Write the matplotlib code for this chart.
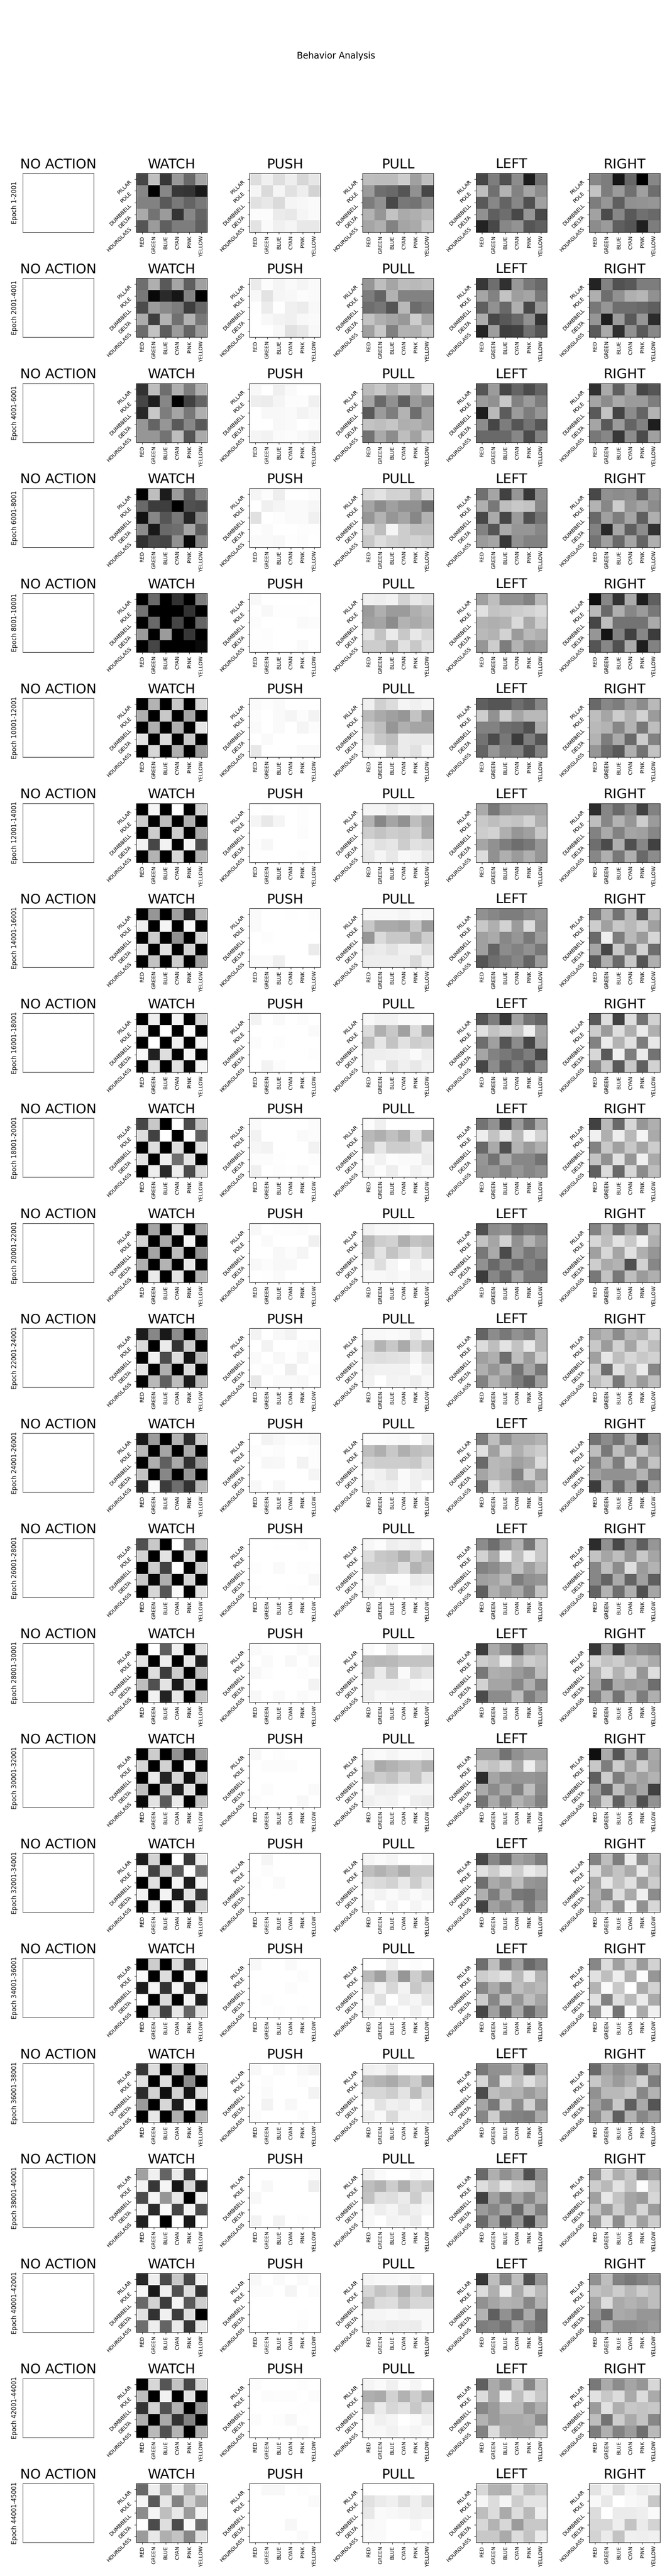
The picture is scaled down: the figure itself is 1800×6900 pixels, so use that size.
import matplotlib
matplotlib.use("Agg")
import matplotlib.pyplot as plt
import numpy as np

COLORS = ["RED", "GREEN", "BLUE", "CYAN", "PINK", "YELLOW"]
SHAPES = ["PILLAR", "POLE", "DUMBBELL", "DELTA", "HOURGLASS"]
ACTIONS = ["NO ACTION", "WATCH", "PUSH", "PULL", "LEFT", "RIGHT"]
EPOCHS = ["1-2001", "2001-4001", "4001-6001", "6001-8001", "8001-10001", "10001-12001",
          "12001-14001", "14001-16001", "16001-18001", "18001-20001", "20001-22001",
          "22001-24001", "24001-26001", "26001-28001", "28001-30001", "30001-32001",
          "32001-34001", "34001-36001", "36001-38001", "38001-40001", "40001-42001",
          "42001-44001", "44001-45001"]

# Grey level of each cell (0 black .. 255 white), one 5x6 grid per epoch.
NO_ACTION = [[255] * 6] * 5

WATCH = [
 [[70,192,55,152,105,165],[135,0,135,55,52,25],[130,130,90,122,100,120],[170,115,155,52,135,100],[85,155,95,125,125,95]],
 [[110,175,90,165,95,160],[120,8,42,22,130,0],[75,155,138,125,62,102],[172,62,178,112,178,120],[108,195,92,155,100,155]],
 [[50,190,110,175,125,175],[70,30,135,0,65,100],[40,200,125,165,120,175],[150,100,150,90,135,90],[150,150,115,190,85,170]],
 [[0,190,28,155,85,135],[105,60,62,0,80,75],[18,135,85,120,38,135],[140,25,105,110,165,95],[48,75,68,145,10,135]],
 [[0,105,0,50,0,125],[115,0,0,0,50,0],[0,105,0,70,0,100],[155,0,155,0,55,0],[0,70,0,0,0,10]],
 [[0,180,0,200,0,215],[175,0,200,0,165,0],[0,175,0,175,0,230],[228,0,218,0,200,0],[0,215,0,175,0,155]],
 [[0,245,0,255,0,210],[205,0,190,0,175,0],[0,205,0,205,0,170],[242,70,242,0,242,75],[0,180,0,215,0,180]],
 [[0,150,0,160,35,185],[238,0,245,0,248,0],[0,205,0,145,0,215],[230,0,225,0,210,0],[0,195,0,205,0,160]],
 [[0,238,0,245,0,215],[238,0,255,0,250,0],[0,255,0,240,0,245],[248,32,222,0,245,0],[0,225,0,228,8,245]],
 [[70,200,0,255,75,195],[222,65,255,0,252,95],[0,222,0,222,0,225],[228,0,238,110,228,0],[0,238,40,238,75,218]],
 [[0,165,0,222,0,170],[212,0,170,0,245,0],[0,165,0,190,0,150],[175,0,180,0,230,0],[0,235,0,228,0,180]],
 [[28,135,25,140,0,155],[218,0,235,50,205,0],[0,240,75,222,20,185],[228,0,175,0,218,0],[0,185,95,190,28,185]],
 [[25,155,0,180,45,205],[185,0,165,0,170,0],[0,175,95,170,50,155],[195,0,135,0,150,0],[38,250,60,110,50,185]],
 [[80,200,0,255,100,195],[210,0,228,0,215,0],[0,205,65,255,0,205],[200,8,175,0,212,0],[0,215,85,250,0,228]],
 [[0,255,95,240,0,225],[225,0,240,0,230,30],[0,222,60,205,0,190],[190,80,228,25,212,0],[0,242,35,232,0,195]],
 [[0,205,0,145,15,160],[215,0,210,0,243,0],[0,235,35,215,15,200],[190,0,205,28,225,0],[8,228,90,235,0,195]],
 [[28,212,0,255,55,238],[245,65,210,90,252,110],[0,225,0,243,28,245],[243,0,243,25,228,55],[0,235,0,243,35,220]],
 [[0,205,0,218,55,238],[250,0,222,0,245,0],[28,245,50,245,40,240],[255,0,218,0,243,30],[0,215,65,230,100,225]],
 [[55,222,0,195,0,212],[225,0,222,0,140,0],[45,212,15,210,20,222],[155,0,215,28,240,0],[0,232,0,175,0,180]],
 [[160,240,100,235,60,255],[243,55,245,20,215,35],[75,245,150,232,0,243],[245,42,250,70,243,75],[32,255,0,255,25,255]],
 [[40,238,75,200,70,242],[245,25,240,80,222,50],[105,210,60,245,90,205],[228,50,240,60,222,0],[110,238,100,235,55,232]],
 [[0,215,85,195,70,215],[190,0,242,0,225,0],[50,212,80,180,0,150],[175,0,170,50,130,0],[0,185,80,180,0,175]],
 [[105,238,165,235,175,228],[245,90,230,130,210,165],[140,245,190,232,155,243],[255,75,222,75,250,110],[155,232,175,195,135,225]],
]

PUSH = [
 [[222,240,222,238,215,230],[245,218,245,225,238,212],[225,232,218,245,247,250],[252,252,235,232,245,250],[228,250,240,245,232,232]],
 [[235,252,245,250,245,250],[248,228,246,248,252,250],[254,236,254,240,236,248],[255,248,244,240,248,250],[255,255,248,225,232,248]],
 [[248,255,240,250,255,255],[238,236,245,252,252,240],[255,248,248,250,243,248],[255,255,248,250,255,252],[245,242,250,252,248,242]],
 [[245,252,238,255,255,252],[255,240,245,250,250,246],[225,255,253,250,250,240],[254,250,255,255,253,254],[250,250,248,254,252,255]],
 [[248,255,255,255,255,254],[254,248,254,254,254,255],[252,255,255,255,250,252],[254,253,255,255,255,255],[253,253,255,255,250,255]],
 [[250,253,250,255,255,255],[252,255,250,245,252,243],[250,255,250,255,245,252],[255,250,255,255,255,255],[232,255,255,255,250,250]],
 [[255,253,255,255,253,255],[245,232,245,255,253,255],[255,255,255,255,252,255],[253,247,255,255,255,255],[254,255,255,255,253,255]],
 [[250,255,255,254,255,253],[250,255,255,255,255,254],[255,253,255,255,255,255],[255,255,255,255,255,235],[250,250,240,255,255,255]],
 [[243,255,250,255,252,255],[255,255,255,255,255,250],[252,255,253,255,255,255],[255,255,255,255,255,253],[255,243,252,255,255,255]],
 [[250,255,255,255,255,252],[242,255,255,255,250,252],[246,243,255,255,255,242],[252,252,254,255,255,253],[240,255,253,254,250,255]],
 [[248,255,253,253,252,255],[255,250,255,255,255,240],[255,255,248,252,245,255],[248,252,248,248,255,255],[255,254,250,255,255,255]],
 [[243,255,248,243,255,255],[255,243,255,255,252,250],[250,255,248,254,245,255],[254,250,255,238,255,252],[232,255,250,250,248,255]],
 [[255,243,248,253,252,248],[252,254,252,255,255,253],[255,247,248,255,243,253],[255,255,255,255,255,245],[248,255,248,255,255,255]],
 [[255,255,254,254,253,255],[255,255,255,255,255,255],[253,255,250,255,253,254],[255,255,255,255,255,247],[253,255,255,254,253,255]],
 [[250,254,255,255,250,255],[255,250,255,248,255,248],[248,253,255,255,253,255],[255,255,255,255,255,243],[248,255,250,255,250,253]],
 [[248,255,253,255,255,255],[255,252,252,252,255,255],[255,255,255,255,255,255],[255,252,255,255,255,250],[252,255,255,255,248,255]],
 [[255,245,255,255,255,255],[255,252,255,255,255,255],[253,255,250,255,255,255],[255,255,255,255,255,255],[255,255,255,255,255,255]],
 [[248,255,255,250,255,255],[255,255,255,255,252,255],[255,255,255,252,255,255],[255,253,255,255,255,255],[255,255,253,255,253,255]],
 [[248,255,250,255,248,243],[255,252,255,255,252,255],[254,250,255,255,255,244],[255,243,255,248,255,255],[252,255,255,255,252,255]],
 [[255,255,255,255,255,252],[255,248,255,255,255,238],[248,255,255,255,255,255],[255,255,255,255,255,255],[243,255,243,255,253,255]],
 [[248,255,250,255,250,255],[252,252,255,245,255,252],[255,255,255,255,255,255],[255,255,255,255,254,255],[255,255,255,255,252,255]],
 [[252,255,255,255,253,255],[255,252,253,253,255,252],[255,255,255,255,254,255],[252,255,253,248,255,255],[255,255,255,255,250,255]],
 [[255,248,248,255,253,255],[255,255,255,255,255,250],[255,255,255,255,255,255],[255,255,255,247,255,255],[255,255,255,255,250,255]],
]

PULL = [
 [[190,188,188,205,160,190],[155,110,105,85,145,70],[125,145,72,120,115,140],[180,150,195,170,175,185],[165,175,130,165,170,200]],
 [[150,190,165,188,185,190],[125,100,178,130,130,130],[110,118,85,185,108,120],[195,175,165,152,205,165],[160,200,128,178,175,198]],
 [[188,200,175,195,172,220],[165,105,145,95,155,135],[90,155,125,180,110,165],[195,190,198,175,178,165],[115,170,140,190,162,205]],
 [[220,228,210,212,178,215],[165,140,160,145,145,112],[150,180,150,165,135,178],[215,190,245,205,190,190],[200,222,210,205,212,205]],
 [[240,238,242,212,232,225],[155,175,155,155,175,185],[160,165,140,180,170,180],[228,195,235,200,232,215],[205,205,180,225,200,225]],
 [[240,208,220,245,240,245],[185,170,160,150,195,155],[205,190,150,175,165,165],[225,200,190,235,232,232],[238,245,205,235,225,245]],
 [[245,245,235,245,240,245],[180,135,165,145,190,165],[205,195,205,200,210,170],[235,225,230,205,225,220],[232,245,232,248,245,235]],
 [[248,248,248,245,250,248],[200,170,170,165,200,155],[150,218,200,200,175,205],[232,235,228,240,240,222],[238,238,238,238,218,240]],
 [[248,242,242,250,250,252],[220,175,200,160,220,160],[190,230,195,225,205,212],[238,238,240,242,250,238],[238,250,228,240,232,242]],
 [[252,240,255,255,255,255],[185,175,192,175,222,180],[195,230,205,205,212,238],[250,242,252,250,250,235],[242,252,238,252,242,248]],
 [[242,248,248,250,255,255],[185,205,210,175,195,190],[195,228,195,215,232,208],[240,222,245,255,240,250],[248,248,245,250,243,243]],
 [[248,248,250,248,235,250],[215,180,200,170,215,190],[225,222,225,228,245,222],[240,242,242,242,252,242],[243,255,243,245,238,248]],
 [[252,252,250,248,255,238],[190,175,200,175,190,195],[210,205,205,205,200,222],[245,240,228,250,240,235],[235,243,240,250,240,255]],
 [[247,252,238,242,238,252],[220,200,195,175,205,185],[205,205,200,222,180,195],[245,238,252,252,235,238],[240,248,243,250,245,248]],
 [[250,255,235,255,255,245],[185,182,185,195,195,195],[200,235,200,250,220,230],[238,238,238,240,248,250],[238,248,245,245,242,242]],
 [[248,250,245,250,250,245],[212,170,178,188,195,178],[195,205,195,215,195,228],[248,238,240,245,245,245],[240,245,243,252,238,235]],
 [[245,250,245,255,255,250],[190,178,190,172,200,200],[222,218,210,232,205,228],[248,243,250,243,250,243],[242,255,245,255,245,252]],
 [[255,255,240,255,252,255],[185,160,205,150,205,172],[220,243,215,243,200,220],[248,225,255,238,246,230],[240,250,243,252,240,252]],
 [[240,243,230,252,252,252],[185,180,170,190,205,160],[215,215,205,228,190,225],[248,228,240,235,248,232],[238,248,218,243,243,240]],
 [[240,250,255,255,248,252],[190,178,205,175,210,200],[195,225,222,235,205,238],[247,238,245,230,240,246],[248,255,243,246,235,255]],
 [[245,248,248,250,245,255],[215,195,205,175,205,185],[190,220,222,195,215,215],[245,245,248,245,248,248],[238,240,236,238,236,248]],
 [[245,250,240,252,245,255],[175,170,210,178,205,175],[200,235,215,225,200,225],[248,240,245,255,250,240],[248,248,242,250,245,250]],
 [[255,255,255,255,253,255],[225,235,240,225,240,222],[232,250,248,245,240,242],[248,250,255,255,247,255],[250,250,255,255,255,252]],
]

LEFT = [
 [[70,125,80,140,28,112],[190,112,180,130,165,140],[90,135,100,135,80,160],[145,95,110,72,150,72],[35,72,135,148,85,95]],
 [[55,110,48,152,120,105],[165,130,195,158,165,120],[95,145,105,175,72,152],[172,72,88,105,145,52],[35,158,62,65,112,85]],
 [[85,155,70,100,75,100],[155,145,200,130,155,125],[28,185,92,155,125,150],[140,70,125,85,115,85],[105,105,105,135,75,130]],
 [[112,165,65,150,55,140],[175,120,190,200,195,135],[72,170,70,155,80,115],[130,85,170,150,150,135],[155,165,55,145,130,130]],
 [[160,190,145,145,130,185],[225,195,200,205,210,218],[180,175,180,218,170,205],[185,180,210,155,185,175],[150,205,125,180,145,155]],
 [[95,85,85,110,95,135],[205,145,205,165,185,185],[130,130,110,105,80,170],[115,75,120,60,125,85],[100,150,125,130,80,130]],
 [[170,120,150,160,160,165],[200,190,200,195,210,175],[205,212,175,150,160,200],[165,145,125,110,120,150],[220,145,175,155,175,150]],
 [[145,135,125,125,140,150],[200,175,210,155,220,145],[160,170,135,150,120,155],[160,100,140,130,145,120],[85,110,120,135,100,155]],
 [[85,125,55,160,115,100],[225,195,210,195,240,165],[110,160,85,140,70,160],[165,130,120,105,125,70],[70,140,95,125,90,140]],
 [[115,145,70,155,110,170],[238,195,230,185,242,210],[105,170,80,180,155,175],[150,115,170,135,135,115],[145,150,130,150,135,145]],
 [[80,140,145,105,120,115],[195,165,210,145,180,150],[120,170,75,150,120,135],[145,105,135,105,130,110],[60,135,105,160,120,120]],
 [[100,140,120,145,130,178],[220,190,228,195,232,180],[160,175,110,190,155,205],[175,150,178,115,165,120],[130,180,155,125,100,160]],
 [[125,190,145,170,170,180],[225,160,210,175,195,205],[105,185,180,160,170,220],[165,185,175,130,205,160],[110,225,195,155,150,190]],
 [[140,110,145,180,120,200],[210,170,240,190,235,200],[130,140,160,195,160,185],[160,165,185,125,145,150],[95,175,155,170,130,195]],
 [[60,170,145,90,160,180],[205,195,235,180,205,195],[120,175,170,155,140,190],[210,165,165,135,175,130],[75,140,140,190,125,155]],
 [[160,160,115,145,160,160],[205,195,215,170,238,185],[45,165,145,150,150,145],[170,140,170,130,190,140],[115,170,130,180,160,130]],
 [[70,135,105,160,150,125],[225,205,232,205,235,222],[110,170,155,190,150,145],[175,125,175,120,115,140],[65,160,140,170,120,155]],
 [[110,190,115,160,105,125],[205,215,228,185,230,180],[135,170,135,190,175,185],[205,135,195,150,190,165],[70,160,100,170,105,150]],
 [[120,145,145,180,90,170],[215,140,225,190,225,195],[75,190,175,180,155,175],[165,120,205,140,210,140],[135,205,135,130,125,170]],
 [[105,175,145,165,80,145],[222,200,230,208,205,160],[65,160,125,165,135,175],[155,135,165,105,175,130],[105,160,85,150,70,165]],
 [[55,190,135,190,80,150],[220,175,238,170,215,185],[145,165,180,175,135,180],[180,95,145,110,170,110],[125,130,115,170,135,115]],
 [[95,170,145,205,135,195],[220,170,240,190,225,200],[135,155,185,185,150,175],[180,155,170,170,175,140],[130,220,175,170,170,205]],
 [[215,180,175,225,190,205],[245,220,245,205,228,228],[190,220,170,220,185,238],[215,180,215,155,200,200],[200,200,170,220,195,235]],
]

RIGHT = [
 [[135,125,22,102,0,135],[195,125,155,112,160,110],[125,150,95,145,148,150],[162,75,135,90,112,105],[140,155,95,85,32,125]],
 [[35,130,82,88,125,125],[175,110,145,175,182,145],[120,150,110,110,105,95],[150,30,155,90,150,45],[90,170,48,145,90,135]],
 [[48,170,95,165,70,85],[165,140,170,155,155,125],[90,195,68,140,100,180],[165,90,155,100,130,30],[120,135,55,140,75,160]],
 [[72,145,140,145,100,150],[180,135,205,150,165,140],[105,160,125,165,95,175],[130,40,165,95,140,50],[115,160,105,165,100,175]],
 [[15,135,50,170,30,95],[185,105,175,135,155,120],[70,190,115,115,115,170],[150,20,130,65,135,60],[85,135,80,170,30,130]],
 [[105,135,125,160,140,185],[190,165,205,180,210,155],[185,180,135,180,120,190],[180,125,170,105,205,130],[150,110,90,175,115,195]],
 [[45,135,105,140,65,130],[190,135,180,150,205,155],[130,170,130,165,160,135],[110,75,175,80,135,65],[135,175,120,175,105,140]],
 [[120,180,115,185,90,190],[205,160,200,185,205,160],[105,238,125,185,155,215],[165,70,200,125,210,110],[90,175,105,200,85,175]],
 [[90,222,65,222,115,210],[205,155,222,175,235,175],[130,235,180,225,125,232],[215,90,240,125,235,115],[135,200,90,200,95,210]],
 [[65,185,105,215,150,175],[240,175,238,185,245,170],[130,200,160,200,165,205],[195,145,225,150,240,170],[95,220,105,215,140,190]],
 [[130,185,115,170,110,190],[215,190,228,200,240,175],[160,215,165,225,175,150],[205,170,180,80,210,135],[120,195,120,190,155,175]],
 [[165,180,140,185,175,215],[200,155,210,165,215,190],[160,230,190,215,200,210],[205,110,225,190,235,135],[190,210,120,190,155,190]],
 [[115,140,115,180,75,150],[190,120,190,140,200,160],[135,180,125,210,135,195],[160,145,145,145,180,125],[60,175,105,165,80,165]],
 [[45,145,72,145,95,150],[195,165,190,150,200,165],[135,190,140,222,155,180],[135,100,170,100,160,95],[100,180,110,175,80,165]],
 [[55,165,60,160,135,130],[215,195,205,180,190,170],[175,220,180,215,150,222],[165,105,170,155,160,110],[125,180,115,185,125,175]],
 [[15,170,85,180,110,170],[200,125,205,155,205,165],[95,205,125,180,160,180],[155,100,190,135,165,65],[135,205,95,165,80,145]],
 [[130,190,125,235,140,195],[222,170,195,170,232,185],[170,232,195,225,160,205],[180,140,222,170,240,140],[170,215,145,245,145,215]],
 [[135,220,160,212,155,210],[225,190,238,175,252,150],[180,250,200,255,170,212],[225,130,222,185,235,170],[150,245,115,250,170,240]],
 [[105,165,145,160,105,170],[200,175,155,175,210,125],[145,185,185,200,135,180],[160,130,200,95,170,85],[140,190,95,180,135,160]],
 [[150,218,175,200,135,160],[205,185,228,195,252,205],[160,232,195,165,155,215],[195,155,205,165,215,155],[150,225,140,215,160,205]],
 [[145,190,130,120,130,145],[195,185,205,185,205,190],[165,220,170,180,170,190],[150,110,170,165,150,150],[125,180,140,140,145,155]],
 [[120,170,140,165,150,215],[225,200,220,170,220,170],[155,225,175,200,195,200],[190,115,205,170,195,135],[125,175,130,155,110,185]],
 [[228,245,222,245,235,240],[248,232,255,248,245,200],[220,255,235,235,238,250],[215,215,238,195,235,212],[212,235,195,240,238,240]],
]

PANELS = [WATCH, PUSH, PULL, LEFT, RIGHT]

W, H = 1800, 6900
AX_H = 158
PITCH = 281.3
fig = plt.figure(figsize=(W / 100, H / 100), dpi=100)
fig.suptitle("Behavior Analysis", fontsize=17, y=0.98)
gs = fig.add_gridspec(
    len(EPOCHS), len(ACTIONS),
    left=61.5 / W, right=1768 / W, top=1 - 464 / H, bottom=1 - 6810 / H,
    wspace=113.4 / 190, hspace=(PITCH - AX_H) / AX_H,
)

for r, epoch in enumerate(EPOCHS):
    for c, action in enumerate(ACTIONS):
        ax = fig.add_subplot(gs[r, c])
        grid = NO_ACTION if c == 0 else PANELS[c - 1][r]
        ax.imshow(np.array(grid), cmap="gray", vmin=0, vmax=255, aspect="auto",
                  interpolation="nearest")
        ax.set_title(action, fontsize=26, pad=10)
        if c == 0:
            ax.set_xticks([])
            ax.set_yticks([])
            ax.set_ylabel(f"Epoch {epoch}", fontsize=12, labelpad=10)
        else:
            ax.set_xticks(range(len(COLORS)))
            ax.set_xticklabels(COLORS, rotation=90, fontsize=10)
            ax.set_yticks(range(len(SHAPES)))
            ax.set_yticklabels(SHAPES, rotation=45, fontsize=10, ha="right", va="top")

fig.savefig("out.png", dpi=100)
